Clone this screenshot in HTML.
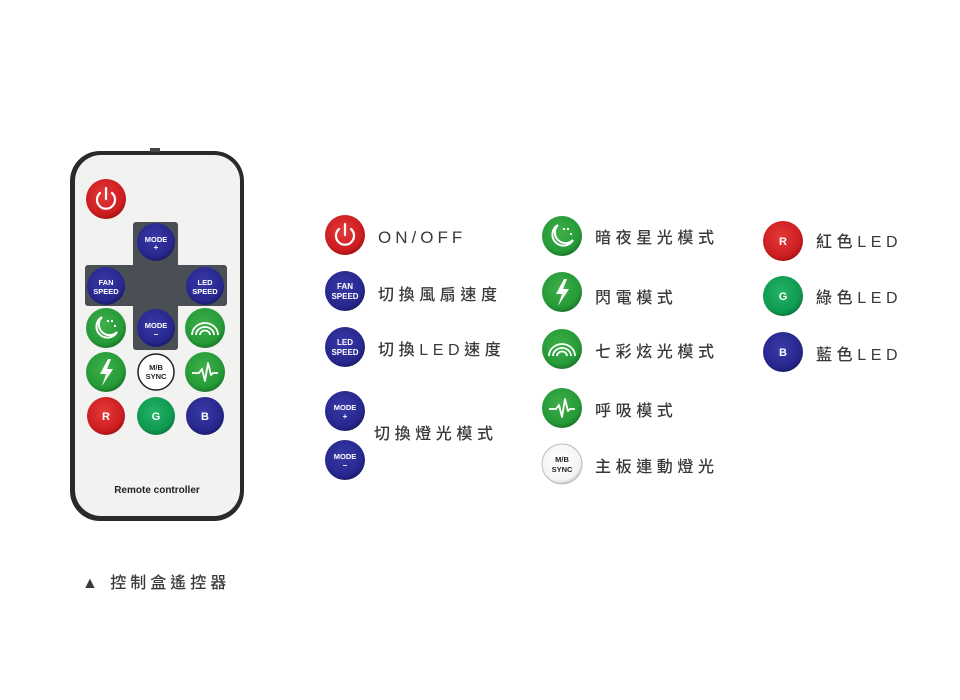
<!DOCTYPE html>
<html><head><meta charset="utf-8"><style>
html,body{margin:0;padding:0;background:#fff;width:960px;height:700px;overflow:hidden}
svg{display:block}
.t{font-family:"Liberation Sans","Noto Sans CJK TC",sans-serif;font-size:16px;fill:#3a3a3a;font-weight:500;letter-spacing:4.6px}
.b{font-family:"Liberation Sans",sans-serif;font-weight:bold;fill:#fff;text-anchor:middle}
</style></head><body>
<svg width="960" height="700" viewBox="0 0 960 700" xmlns="http://www.w3.org/2000/svg">
<defs>
<radialGradient id="gr" cx="45%" cy="40%" r="60%"><stop offset="0" stop-color="#e63a3a"/><stop offset="0.8" stop-color="#cc1d20"/><stop offset="1" stop-color="#a81418"/></radialGradient>
<radialGradient id="gb" cx="45%" cy="40%" r="60%"><stop offset="0" stop-color="#3a3aa8"/><stop offset="0.8" stop-color="#27278e"/><stop offset="1" stop-color="#1c1c6c"/></radialGradient>
<radialGradient id="gg" cx="45%" cy="40%" r="60%"><stop offset="0" stop-color="#3fb04a"/><stop offset="0.8" stop-color="#259a37"/><stop offset="1" stop-color="#1a7a2a"/></radialGradient>
<radialGradient id="ggg" cx="45%" cy="40%" r="60%"><stop offset="0" stop-color="#25b46a"/><stop offset="0.8" stop-color="#0e9a50"/><stop offset="1" stop-color="#0a7a3e"/></radialGradient>
<radialGradient id="gw" cx="45%" cy="40%" r="60%"><stop offset="0" stop-color="#fff"/><stop offset="0.85" stop-color="#f4f4f4"/><stop offset="1" stop-color="#ccc"/></radialGradient>
<g id="pw"><circle r="20" fill="url(#gr)"/><path d="M-6,-6 A9,9 0 1 0 6,-6" fill="none" stroke="#fff" stroke-width="2.2" stroke-linecap="round"/><line x1="0" y1="-11" x2="0" y2="0" stroke="#fff" stroke-width="2.2" stroke-linecap="round"/></g>
<g id="moon"><circle r="20" fill="url(#gg)"/><path d="M-4,-11 A11,11 0 1 0 11,4 A9,9 0 0 1 -4,-11 Z" fill="none" stroke="#fff" stroke-width="2"/><rect x="1" y="-8" width="2" height="2" fill="#fff"/><rect x="5" y="-8" width="2" height="2" fill="#fff"/><rect x="8" y="-3" width="2" height="2" fill="#fff"/></g>
<g id="bolt"><circle r="20" fill="url(#gg)"/><path d="M2,-13 L-6,2 L0,2 L-4,14 L7,-3 L1,-3 L5,-13 Z" fill="#fff"/></g>
<g id="rain"><circle r="20" fill="url(#gg)"/><path d="M-13,7 A13,12 0 0 1 13,7 M-9,7 A9,8 0 0 1 9,7 M-5,7 A5,4.5 0 0 1 5,7" fill="none" stroke="#fff" stroke-width="1.8"/></g>
<g id="pulse"><circle r="20" fill="url(#gg)"/><path d="M-13,1 L-6,1 L-3,-3 L0,9 L3,-9 L6,3 L8,1 L13,1" fill="none" stroke="#fff" stroke-width="1.8" stroke-linejoin="round"/></g>
</defs>

<rect x="70" y="151" width="174" height="370" rx="30" fill="#2a2a2a"/>
<rect x="75" y="155" width="165" height="361" rx="26" fill="#f2f2f0"/>
<rect x="150" y="148" width="10" height="4" fill="#444"/>
<rect x="133" y="222" width="45" height="128" rx="3" fill="#4a4f55"/>
<rect x="85" y="265" width="142" height="41" rx="3" fill="#4a4f55"/>
<use href="#pw" x="106" y="199"/>
<g><circle cx="156" cy="242" r="19" fill="url(#gb)"/><text class="b" x="156" y="242" font-size="7.5">MODE</text><text class="b" x="156" y="250" font-size="8">+</text></g>
<g><circle cx="106" cy="286" r="19" fill="url(#gb)"/><text class="b" x="106" y="285" font-size="7.5">FAN</text><text class="b" x="106" y="294" font-size="7.5">SPEED</text></g>
<g><circle cx="205" cy="286" r="19" fill="url(#gb)"/><text class="b" x="205" y="285" font-size="7.5">LED</text><text class="b" x="205" y="294" font-size="7.5">SPEED</text></g>
<use href="#moon" x="106" y="328"/>
<g><circle cx="156" cy="328" r="19" fill="url(#gb)"/><text class="b" x="156" y="328" font-size="7.5">MODE</text><text class="b" x="156" y="337" font-size="8">–</text></g>
<use href="#rain" x="205" y="328"/>
<use href="#bolt" x="106" y="372"/>
<g><circle cx="156" cy="372" r="18" fill="#fff" stroke="#222" stroke-width="1.5"/><text class="b" x="156" y="370" font-size="7.5" style="fill:#222">M/B</text><text class="b" x="156" y="379" font-size="7.5" style="fill:#222">SYNC</text></g>
<use href="#pulse" x="205" y="372"/>
<g><circle cx="106" cy="416" r="19" fill="url(#gr)"/><text class="b" x="106" y="420" font-size="11">R</text></g>
<g><circle cx="156" cy="416" r="19" fill="url(#ggg)"/><text class="b" x="156" y="420" font-size="11">G</text></g>
<g><circle cx="205" cy="416" r="19" fill="url(#gb)"/><text class="b" x="205" y="420" font-size="11">B</text></g>
<text x="157" y="493" font-family="Liberation Sans,sans-serif" font-weight="bold" font-size="10" fill="#222" text-anchor="middle">Remote controller</text>

<use href="#pw" x="345" y="235"/>
<text class="t" x="378" y="243" style="font-size:17px;letter-spacing:4px">ON/OFF</text>
<g><circle cx="345" cy="291" r="20" fill="url(#gb)"/><text class="b" x="345" y="289" font-size="8">FAN</text><text class="b" x="345" y="299" font-size="8">SPEED</text></g>
<text class="t" x="378" y="300">切換風扇速度</text>
<g><circle cx="345" cy="347" r="20" fill="url(#gb)"/><text class="b" x="345" y="345" font-size="8">LED</text><text class="b" x="345" y="355" font-size="8">SPEED</text></g>
<text class="t" x="378" y="355">切換LED速度</text>
<g><circle cx="345" cy="411" r="20" fill="url(#gb)"/><text class="b" x="345" y="410" font-size="7.5">MODE</text><text class="b" x="345" y="419" font-size="8">+</text></g>
<g><circle cx="345" cy="460" r="20" fill="url(#gb)"/><text class="b" x="345" y="459" font-size="7.5">MODE</text><text class="b" x="345" y="468" font-size="8">–</text></g>
<text class="t" x="374" y="439">切換燈光模式</text>

<use href="#moon" x="562" y="236"/>
<text class="t" x="595" y="243">暗夜星光模式</text>
<use href="#bolt" x="562" y="292"/>
<text class="t" x="595" y="303">閃電模式</text>
<use href="#rain" x="562" y="349"/>
<text class="t" x="595" y="357">七彩炫光模式</text>
<use href="#pulse" x="562" y="408"/>
<text class="t" x="595" y="416">呼吸模式</text>
<g><circle cx="562" cy="464" r="20" fill="url(#gw)" stroke="#bbb" stroke-width="1"/><text class="b" x="562" y="462" font-size="7.5" style="fill:#222">M/B</text><text class="b" x="562" y="472" font-size="7.5" style="fill:#222">SYNC</text></g>
<text class="t" x="595" y="472">主板連動燈光</text>

<g><circle cx="783" cy="241" r="20" fill="url(#gr)"/><text class="b" x="783" y="245" font-size="11">R</text></g>
<text class="t" x="816" y="247">紅色LED</text>
<g><circle cx="783" cy="296" r="20" fill="url(#ggg)"/><text class="b" x="783" y="300" font-size="11">G</text></g>
<text class="t" x="816" y="303">綠色LED</text>
<g><circle cx="783" cy="352" r="20" fill="url(#gb)"/><text class="b" x="783" y="356" font-size="11">B</text></g>
<text class="t" x="816" y="360">藍色LED</text>

<text class="t" x="82" y="588" style="font-size:16px;letter-spacing:4px">▲ 控制盒遙控器</text>
</svg>
</body></html>
